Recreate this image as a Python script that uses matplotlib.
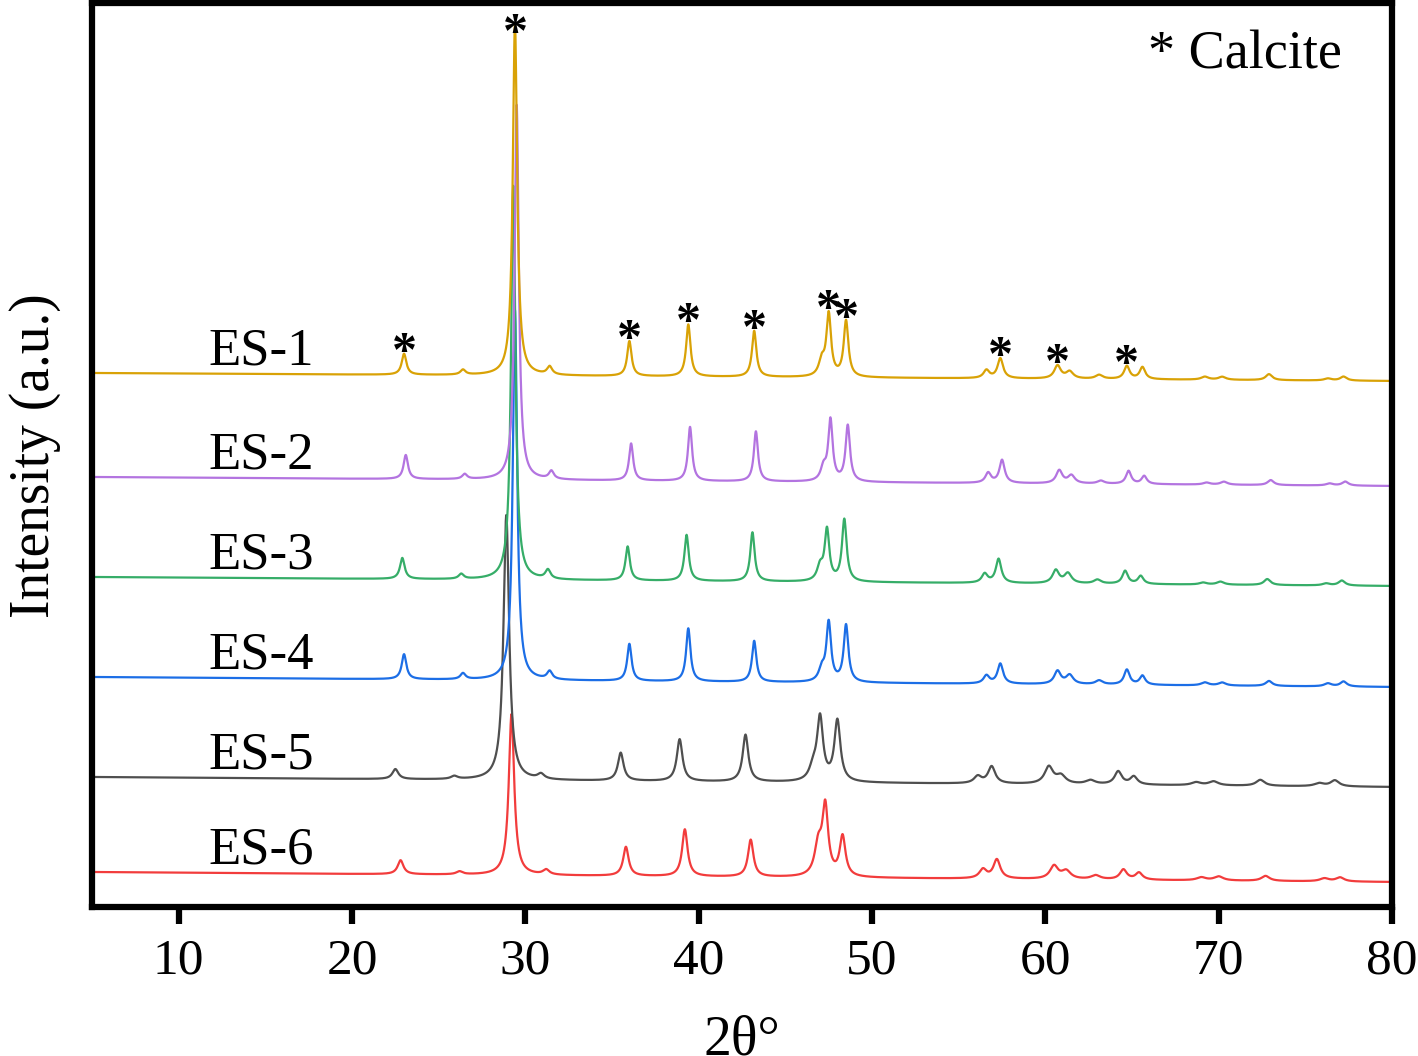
import matplotlib
matplotlib.use("Agg")
import matplotlib.pyplot as plt
import numpy as np

# calcite reflections (2theta, ES-1 positions)
peak_pos = [23.0, 26.4, 29.4, 31.4, 36.0, 39.4, 43.2, 47.1, 47.5, 48.5, 56.6, 57.4,
            60.7, 61.4, 63.1, 64.7, 65.6, 69.2, 70.2, 72.9, 76.3, 77.2]
peak_fwhm = [0.32, 0.35, 0.30, 0.35, 0.30, 0.30, 0.30, 0.40, 0.32, 0.32, 0.40, 0.38,
             0.45, 0.50, 0.50, 0.38, 0.38, 0.50, 0.50, 0.45, 0.50, 0.45]

samples = ["ES-1", "ES-2", "ES-3", "ES-4", "ES-5", "ES-6"]
colors = ["#d9a206", "#b374e0", "#36ad68", "#1c6ee6", "#4f4f4f", "#f23c3c"]

heights = {
    "ES-1": [21, 5, 352, 8, 35, 52, 46, 15, 62, 56, 8, 20, 13, 7, 4, 13, 12, 3, 3, 6, 2, 4],
    "ES-2": [24, 5, 375, 8, 37, 54, 50, 13, 61, 56, 10, 23, 13, 8, 3, 13, 8, 2, 3, 5, 2, 4],
    "ES-3": [21, 5, 394, 9, 34, 46, 49, 14, 51, 62, 9, 24, 13, 10, 4, 13, 8, 2, 3, 6, 2, 5],
    "ES-4": [25, 6, 370, 8, 37, 53, 41, 12, 59, 57, 8, 20, 13, 9, 4, 15, 9, 3, 3, 5, 3, 5],
    "ES-5": [10, 3, 265, 5, 28, 42, 47, 12, 63, 61, 7, 17, 17, 8, 4, 13, 8, 3, 4, 6, 3, 6],
    "ES-6": [14, 3, 161, 5, 29, 47, 37, 30, 68, 40, 9, 19, 13, 8, 4, 10, 7, 3, 4, 5, 3, 4],
}
shift = [0.0, 0.1, -0.1, 0.0, -0.5, -0.2]
width_factor = [1.0, 0.95, 1.0, 1.0, 1.3, 1.25]
base_left = [534, 430, 330, 230, 130, 35]
base_right = [526, 421, 321, 220, 120, 25]

# peaks of ES-1 marked with *
star_idx = [0, 2, 4, 5, 6, 8, 9, 11, 12, 15]

two_theta = np.linspace(5, 80, 7501)


def pattern(i):
    s = samples[i]
    y = np.interp(two_theta, [5, 80], [base_left[i], base_right[i]])
    for p, w, h in zip(peak_pos, peak_fwhm, heights[s]):
        hw = w * width_factor[i] / 2
        y = y + h / (1 + ((two_theta - p - shift[i]) / hw) ** 2)
    return y


plt.rcParams['font.family'] = ['Liberation Serif', 'DejaVu Serif']

fig = plt.figure(figsize=(14.18, 10.56), dpi=100)
ax = fig.add_axes([0.0649, 0.1411, 0.9168, 0.8556])

curves = [pattern(i) for i in range(len(samples))]
for i in reversed(range(len(samples))):
    ax.plot(two_theta, curves[i], color=colors[i], lw=1.6)
    ax.text(11.7, base_left[i] + 21, samples[i], fontsize=38, ha='left', va='center')

for k in star_idx:
    p = peak_pos[k]
    top = np.interp(p, two_theta, curves[0])
    ax.text(p, min(top - 12, 860), "*", fontsize=36, fontweight='bold',
            ha='center', va='baseline')

ax.text(0.812, 0.943, "* Calcite", fontsize=39, transform=ax.transAxes,
        ha='left', va='center')

ax.set_xlim(5, 80)
ax.set_ylim(0, 903.5)
ax.set_xticks([10, 20, 30, 40, 50, 60, 70, 80])
ax.set_yticks([])
ax.tick_params(axis='x', direction='out', length=12, width=4.5, labelsize=37, pad=10)
for sp in ax.spines.values():
    sp.set_linewidth(4.5)
ax.set_xlabel("2θ°", fontsize=40, labelpad=22)
ax.set_ylabel("Intensity (a.u.)", fontsize=40, labelpad=22)

fig.savefig("out.png", dpi=100)
